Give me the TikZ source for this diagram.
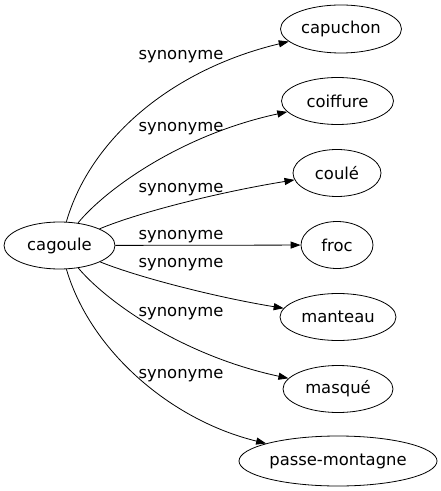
\documentclass[tikz,border=0pt]{standalone}
\usepackage{fontspec}
\setmainfont{DejaVu Sans}
\usetikzlibrary{shapes.geometric,arrows.meta}
\begin{document}
\begin{tikzpicture}[x=0.75pt,y=-0.75pt,
  every node/.style={font=\fontsize{12.3}{14}\selectfont},
  term/.style={draw,ellipse,inner sep=0pt,line width=0.6pt},
  edge/.style={draw,line width=0.6pt,-{Triangle[length=7.5pt,width=5.3pt]}},
  lab/.style={anchor=base,inner sep=0pt}]
\useasboundingbox (0,0) rectangle (440,491);
\node[term,minimum width=83.25pt,minimum height=35.25pt] (cagoule) at (59.5,245.5) {cagoule};
\node[term,minimum width=90.75pt,minimum height=36pt] (capuchon) at (341,29) {capuchon};
\node[term,minimum width=84pt,minimum height=35.25pt] (coiffure) at (337.5,101) {coiffure};
\node[term,minimum width=66pt,minimum height=35.25pt] (coule) at (337,173) {coulé};
\node[term,minimum width=54pt,minimum height=35.25pt] (froc) at (337,245) {froc};
\node[term,minimum width=87pt,minimum height=35.25pt] (manteau) at (338,317) {manteau};
\node[term,minimum width=82.5pt,minimum height=35.25pt] (masque) at (338,389) {masqué};
\node[term,minimum width=148.5pt,minimum height=37.5pt] (passe) at (338,461) {passe-montagne};

\draw[edge] (cagoule) .. controls (90,140) and (170,70) .. (capuchon);
\draw[edge] (cagoule) .. controls (105,190) and (180,135) .. (coiffure);
\draw[edge] (cagoule) .. controls (140,212) and (220,192) .. (coule);
\draw[edge] (cagoule) -- (froc);
\draw[edge] (cagoule) .. controls (140,278) and (220,298) .. (manteau);
\draw[edge] (cagoule) .. controls (105,300) and (180,355) .. (masque);
\draw[edge] (cagoule) .. controls (90,350) and (170,420) .. (passe);

\node[lab] (l1) at (181,60) {synonyme};
\node[lab] (l2) at (181,131.7) {synonyme};
\node[lab] (l3) at (181,192.7) {synonyme};
\node[lab] (l4) at (181,239.3) {synonyme};
\node[lab] (l5) at (181,267.3) {synonyme};
\node[lab] (l6) at (181,316) {synonyme};
\node[lab] (l7) at (181,378.3) {synonyme};
\end{tikzpicture}
\end{document}
